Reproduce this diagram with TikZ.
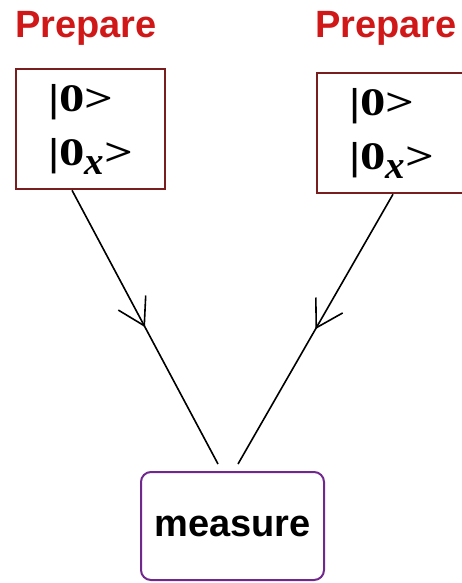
\documentclass[tikz,border=0pt]{standalone}
\usepackage{fontspec}
\setmainfont{Liberation Serif}
\setsansfont{Liberation Sans}
\newfontfamily\statefont[FakeStretch=1.3]{Liberation Serif}
\usepackage{tikz}
\usetikzlibrary{arrows.meta,decorations.markings}
\definecolor{prepred}{RGB}{208,24,24}
\definecolor{boxred}{RGB}{120,30,30}
\definecolor{measpurple}{RGB}{112,40,140}
\newcommand{\subx}{\raisebox{-9pt}{\rmfamily\itshape x}}

\begin{document}
\begin{tikzpicture}[x=1pt,y=-1pt]
  \tikzstyle{title} = [text=prepred, font=\sffamily\bfseries\fontsize{38}{40}\selectfont, inner sep=0pt]
  \tikzstyle{state} = [draw=boxred, line width=2.5pt, minimum width=149pt, minimum height=120pt, align=left, font=\statefont\bfseries\fontsize{39}{54}\selectfont, inner sep=0pt]
  \tikzstyle{meas} = [draw=measpurple, line width=2pt, rounded corners=10pt, minimum width=183pt, minimum height=108pt, font=\sffamily\bfseries\fontsize{38}{40}\selectfont]
  \tikzstyle{edge} = [line width=1.6pt, postaction={decorate}, decoration={markings, mark=at position 0.5 with {\arrow{Straight Barb[length=26pt,width=31pt]}}}]

  \useasboundingbox (0,0) rectangle (462,583);

  \node[title] (p1) at (86,28.5) {Prepare};
  \node[title] (p2) at (386,28.5) {Prepare};

  \node[state] (s1) at (90.5,129) {|0>\\|0\subx>};
  \node[state] (s2) at (391.5,133) {|0>\\|0\subx>};

  \node[meas] (m) at (232.5,526) {measure};

  \draw[edge] ([xshift=-18.5pt]s1.south) -- ([xshift=-14.5pt,yshift=7pt]m.north);
  \draw[edge] ([xshift=1.5pt]s2.south) -- ([xshift=5.5pt,yshift=7pt]m.north);
\end{tikzpicture}
\end{document}
